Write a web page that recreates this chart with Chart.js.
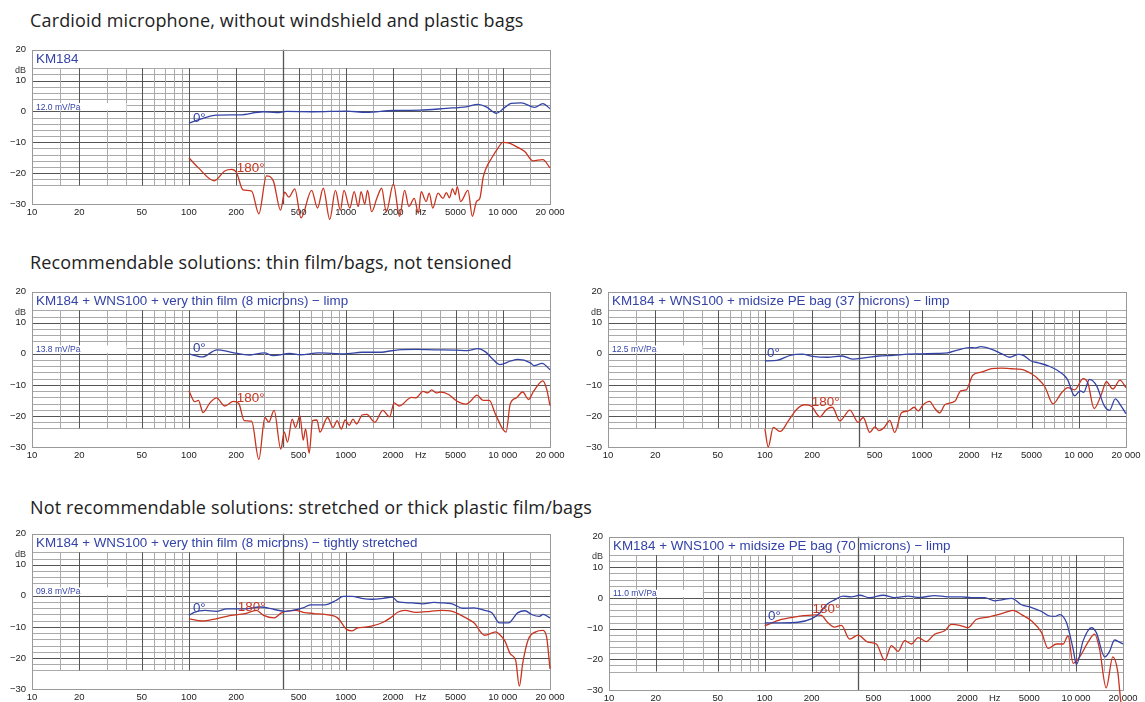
<!DOCTYPE html>
<html>
<head>
<meta charset="utf-8">
<script src="https://cdn.jsdelivr.net/npm/chart.js@4.4.1/dist/chart.umd.min.js"></script>
<style>
  body { margin: 0; width: 1145px; height: 702px; overflow: hidden; background: #fff; position: relative; }
  .heading { position: absolute; left: 30px; font-family: "Open Sans", sans-serif; font-size: 18px; letter-spacing: 0.15px; line-height: 20px; color: #222; white-space: nowrap; }
  .panel { position: absolute; }
</style>
</head>
<body>
<div class="heading" style="top:10px">Cardioid microphone, without windshield and plastic bags</div>
<div class="heading" style="top:252px">Recommendable solutions: thin film/bags, not tensioned</div>
<div class="heading" style="top:497px">Not recommendable solutions: stretched or thick plastic film/bags</div>

<div class="panel" id="w1"><canvas id="c1"></canvas></div>
<div class="panel" id="w2"><canvas id="c2"></canvas></div>
<div class="panel" id="w3"><canvas id="c3"></canvas></div>
<div class="panel" id="w4"><canvas id="c4"></canvas></div>
<div class="panel" id="w5"><canvas id="c5"></canvas></div>

<script>
// ------------------------------------------------------------------
// Axes
// ------------------------------------------------------------------
const xTickValues = [10, 20, 50, 100, 200, 500, 1000, 2000, 3000, 5000, 10000, 20000];
const xTickLabels = ['10', '20', '50', '100', '200', '500', '1000', '2000', 'Hz', '5000', '10 000', '20 000'];
const yTickValues = [-30, -20, -10, 0, 10, 20];
const gridFreqs = [15, 20, 30, 40, 50, 60, 70, 80, 90, 100, 150, 200, 300, 500, 600, 700, 800, 900,
  1000, 1500, 2000, 3000, 4000, 5000, 6000, 7000, 8000, 9000, 10000, 15000];
const majorFreqs = [20, 50, 100, 200, 500, 1000, 2000, 5000, 10000];

const panelTitles = [
  'KM184',
  'KM184 + WNS100 + very thin film (8 microns) \u2212 limp',
  'KM184 + WNS100 + midsize PE bag (37 microns) \u2212 limp',
  'KM184 + WNS100 + very thin film (8 microns) \u2212 tightly stretched',
  'KM184 + WNS100 + midsize PE bag (70 microns) \u2212 limp',
];
const sensitivities = ['12.0 mV/Pa', '13.8 mV/Pa', '12.5 mV/Pa', '09.8 mV/Pa', '11.0 mV/Pa'];

// ------------------------------------------------------------------
// Measured responses (Hz / dB), read off the original plots
// ------------------------------------------------------------------
// KM184 alone
const p1Freq0 = [100, 117, 150, 211, 297, 362, 420, 620, 1010, 1350, 2000, 2970, 4370, 5850, 6940, 7850, 9100, 10300, 11300, 13100, 16000, 18000, 20000];
const p1Db0 = [-3.8, -2.6, -1.2, -1.1, -0.1, -0.4, 0, -0.1, 0.1, -0.3, 0.3, 0.4, 1.0, 1.5, 2.3, 1.5, -0.6, 1.3, 2.6, 2.8, 1.3, 2.5, 0.9];
const p1Freq180 = [100, 115, 145, 169, 187, 201, 221, 251, 279, 312, 345, 384, 408, 433, 473, 518, 605, 660, 718, 790, 858, 923, 973, 1060, 1130, 1200, 1250, 1320, 1375, 1460, 1580, 1690, 1810, 2010, 2200, 2370, 2520, 2730, 2900, 3020, 3250, 3400, 3580, 3870, 4160, 4370, 4580, 4780, 4980, 5130, 5390, 6000, 6400, 6800, 7140, 7500, 7850, 8500, 9300, 10000, 11000, 12200, 13800, 15600, 18000, 20000];
const p1Db180 = [-15, -18.3, -22.5, -19.3, -18.8, -19.8, -25.4, -25.8, -33.2, -20.9, -22.5, -32, -26.2, -27.8, -25.1, -34.5, -25.6, -31.3, -24.9, -35, -25.6, -32, -25.6, -31.3, -26, -30.8, -26, -30, -25.6, -32.5, -28, -24.9, -32.5, -23.5, -34, -25.6, -30.8, -28.2, -33, -26, -29.2, -26.5, -31.3, -26.5, -28.2, -26.3, -28, -25, -27, -24.4, -29.2, -25.6, -34, -29.2, -28.2, -21.4, -18.3, -15.1, -12, -10, -10.3, -11.4, -13, -16, -15.6, -18.3];

// very thin film, limp
const p2Freq0 = [100, 122, 151, 187, 244, 302, 345, 439, 514, 670, 975, 1270, 1650, 2160, 2800, 3670, 5050, 5920, 6950, 7730, 8620, 9580, 11250, 12500, 15000, 15800, 17800, 20000];
const p2Db0 = [0, -1.0, 1.3, 0.5, -0.4, 0.3, -0.6, 0.1, -0.3, 0.3, 0, 0.5, 0.5, 1.3, 1.4, 1.3, 1.2, 1.0, 1.7, 0.7, -1.7, -3.5, -2.3, -1.8, -2.9, -3.8, -3.1, -5.1];
const p2Freq180 = [100, 109, 115, 123, 136, 150, 169, 192, 208, 225, 251, 279, 305, 323, 349, 385, 405, 425, 455, 478, 510, 535, 554, 584, 614, 654, 684, 764, 830, 880, 935, 990, 1050, 1110, 1170, 1270, 1360, 1530, 1720, 1900, 2030, 2190, 2620, 2800, 3100, 3330, 3520, 3790, 4000, 4520, 5090, 5840, 6250, 6840, 7490, 8210, 8990, 10500, 11150, 12200, 13400, 14600, 15700, 18000, 19100, 20000];
const p2Db180 = [-11.9, -15.4, -15, -18.9, -15.8, -14.2, -16.8, -15.3, -16, -21.5, -21.7, -34, -20.5, -22, -18.2, -30.7, -25.2, -28.4, -21, -23.7, -20, -27.8, -24.2, -32, -21.5, -21.3, -25.2, -20.5, -23.7, -21.5, -24.2, -21.3, -23, -21, -22.6, -19.7, -19.5, -22, -18.2, -20.3, -15.8, -16.8, -14, -14.2, -12.1, -12.6, -11.6, -12.6, -12.3, -13.1, -15.2, -16.2, -15.2, -13.3, -15, -15, -19.5, -25.2, -16.2, -14.2, -12.3, -14.7, -12.1, -8.7, -11.6, -16.7];

// midsize PE bag 37 microns, limp
const p3Freq0 = [100, 119, 147, 172, 202, 250, 310, 365, 428, 530, 656, 813, 1000, 1250, 1460, 1710, 2000, 2180, 2370, 2770, 3240, 3620, 4130, 4460, 4970, 5530, 6490, 7610, 8470, 9410, 10200, 10750, 11700, 13000, 14500, 15700, 17100, 18500, 20000];
const p3Db0 = [-2.3, -2.1, -0.4, -0.1, -0.8, -1.1, -0.7, -1.7, -1.3, -0.7, -0.5, -0.1, 0, 0.1, 0.3, 1.3, 2.0, 1.9, 2.3, 1.5, 0, -1.1, -0.2, -0.6, -2.3, -2.9, -4.0, -5.9, -8.2, -13.5, -11.9, -12.4, -8.2, -10.3, -16.6, -18.2, -14.5, -16.6, -19.3];
const p3Freq180 = [100, 105, 113, 125, 141, 159, 180, 198, 224, 247, 269, 300, 348, 393, 423, 466, 502, 532, 576, 625, 671, 742, 817, 894, 948, 1020, 1120, 1210, 1300, 1400, 1620, 1770, 1920, 2110, 2390, 2780, 3210, 3720, 4310, 4990, 5490, 6080, 6860, 7730, 8520, 9420, 10670, 11440, 12530, 13900, 15000, 16500, 18300, 20000];
const p3Db180 = [-24.2, -30, -23.7, -25, -21.6, -17.9, -16.4, -16.9, -20.3, -17.9, -17.2, -21.6, -18.1, -22.1, -20.5, -25.3, -23.5, -24.7, -23.7, -21.4, -25.3, -19, -18.4, -17.2, -18.4, -16.4, -15.3, -17.6, -19, -16.4, -15.3, -11.9, -11.6, -6.9, -5.9, -4.8, -4.6, -4.8, -5, -6.4, -8, -10.6, -16.1, -12.7, -10.9, -11.6, -8, -9.5, -17.6, -13.2, -9, -11.3, -8.5, -10.9];

// very thin film, tightly stretched
const p4Freq0 = [100, 108, 127, 149, 175, 228, 283, 350, 410, 456, 534, 593, 735, 864, 962, 1099, 1257, 1474, 1729, 1975, 2140, 2644, 3100, 3640, 4160, 4760, 5580, 6550, 7680, 8550, 9510, 10870, 12430, 13830, 15390, 17120, 18060, 20000];
const p4Db0 = [-6.3, -5.3, -4.7, -5.0, -4.2, -4.2, -3.6, -4.4, -5.0, -4.7, -3.9, -2.9, -2.9, -1.5, -0.2, -0.2, -0.8, -1.1, -0.8, -0.4, -1.9, -2.3, -2.6, -2.1, -2.3, -2.6, -4.0, -3.9, -4.7, -5.5, -8.7, -8.7, -5.5, -4.8, -6.1, -6.6, -6.0, -7.1];
const p4Freq180 = [100, 121, 149, 185, 228, 269, 299, 350, 389, 480, 534, 627, 735, 886, 1011, 1099, 1190, 1326, 1474, 1729, 1923, 2140, 2380, 2790, 3450, 4050, 4760, 5580, 6550, 7680, 9020, 9510, 10310, 11170, 12090, 12750, 13430, 14560, 16220, 18060, 19050, 20000];
const p4Db180 = [-7.4, -8.1, -7.4, -6.3, -5.7, -4.7, -6.3, -7.1, -5.5, -4.7, -5.3, -5.7, -6.0, -7.1, -10.8, -11.3, -10.3, -10.1, -9.7, -8.5, -7.1, -5.3, -4.7, -5.3, -5.0, -4.7, -5.0, -6.6, -8.7, -12.7, -11.6, -12.4, -14.5, -18.7, -20.8, -29.1, -21.4, -14.0, -11.6, -11.1, -13.4, -23.5];

// midsize PE bag 70 microns, limp
const p5Freq0 = [100, 128, 164, 199, 226, 249, 281, 318, 360, 408, 473, 576, 684, 832, 989, 1233, 1504, 1832, 2126, 2585, 3003, 3320, 3850, 4460, 5180, 6000, 6600, 7300, 7860, 8680, 9560, 10050, 11100, 12530, 13480, 15270, 16400, 17640, 18980, 20000];
const p5Db0 = [-8.1, -8.1, -7.9, -6.8, -4.9, -2.2, -0.6, 0.6, 0.4, 0.9, 0.1, 0.9, 0.1, 0.6, 0.2, 0.8, 0.4, 0.4, 0.1, 0.1, -0.9, -0.6, -0.1, -2.2, -3.1, -4.4, -5.7, -6.0, -5.4, -8.1, -16.6, -21.7, -13.9, -9.7, -11.3, -19.2, -17.4, -13.7, -14.4, -15];
const p5Freq180 = [100, 128, 164, 210, 231, 255, 281, 311, 351, 397, 461, 521, 590, 651, 718, 793, 875, 966, 1090, 1233, 1430, 1580, 1790, 2020, 2280, 2720, 3150, 3650, 3930, 4460, 5180, 6000, 6600, 7480, 8250, 8880, 9560, 10540, 11930, 13150, 14140, 15600, 17200, 18500, 19400, 20000];
const p5Db180 = [-9.1, -7.0, -6.0, -5.5, -5.7, -8.1, -9.5, -8.9, -13.4, -12.1, -14.4, -15.0, -20.3, -15.5, -17.4, -13.9, -15.0, -12.9, -14.2, -11.8, -10.7, -8.6, -8.9, -9.7, -7.0, -6.2, -5.4, -4.4, -4.0, -5.4, -7.5, -11.3, -16.4, -15.0, -15.0, -12.3, -21.3, -19.2, -14.4, -11.8, -16.6, -29.3, -19.2, -24, -34, -36];

// ------------------------------------------------------------------
// Look
// ------------------------------------------------------------------
const FONT = '"Liberation Sans", Arial, sans-serif';
const BLUE = '#3343a6';
const RED = '#c8341f';
const TEXT_BLUE = '#3343a8';

Chart.defaults.font.family = FONT;

const zip = (f, d) => f.map((v, i) => ({ x: v, y: d[i] }));

// plot box in page px + where the 0°/180° labels sit (Hz, dB)
const panels = [
  { id: 'c1', box: { l: 32, t: 46, r: 550, b: 204 }, f0: p1Freq0, d0: p1Db0, f180: p1Freq180, d180: p1Db180, lab0: [106, -2.2], lab180: [202, -18.4] },
  { id: 'c2', box: { l: 32, t: 288, r: 550, b: 447 }, f0: p2Freq0, d0: p2Db0, f180: p2Freq180, d180: p2Db180, lab0: [106, 1.8], lab180: [202, -14.3] },
  { id: 'c3', box: { l: 608, t: 288, r: 1126, b: 447 }, f0: p3Freq0, d0: p3Db0, f180: p3Freq180, d180: p3Db180, lab0: [103, 0.2], lab180: [199, -15.5] },
  { id: 'c4', box: { l: 32, t: 530, r: 550, b: 689 }, f0: p4Freq0, d0: p4Db0, f180: p4Freq180, d180: p4Db180, lab0: [106, -4.1], lab180: [205, -3.6] },
  { id: 'c5', box: { l: 609, t: 533, r: 1123, b: 690 }, f0: p5Freq0, d0: p5Db0, f180: p5Freq180, d180: p5Db180, lab0: [105, -6.1], lab180: [203, -3.6] },
];

const PAD_L = 32, PAD_T = 8, PAD_R = 24, PAD_B = 18;

function line(ctx, x1, y1, x2, y2) {
  ctx.beginPath(); ctx.moveTo(x1, y1); ctx.lineTo(x2, y2); ctx.stroke();
}

function framePlugin(idx, p) {
  return {
    id: 'frame' + idx,
    beforeDatasetsDraw(chart) {
      const { ctx, chartArea: a, scales: { x, y } } = chart;
      ctx.save();
      ctx.lineWidth = 1;
      const yTop = y.getPixelForValue(14), yBot = y.getPixelForValue(-24);
      // horizontal grid, every 2 dB
      for (let v = -24; v <= 14; v += 2) {
        const py = Math.round(y.getPixelForValue(v)) + 0.5;
        ctx.strokeStyle = v % 10 === 0 ? '#555' : '#aaa';
        line(ctx, a.left, py, a.right, py);
      }
      // vertical grid
      gridFreqs.forEach(f => {
        const px = Math.round(x.getPixelForValue(f)) + 0.5;
        ctx.strokeStyle = majorFreqs.includes(f) ? '#555' : '#aaa';
        line(ctx, px, yTop, px, yBot);
      });
      // the dark full-height marker at 400 Hz
      const p400 = Math.round(x.getPixelForValue(400)) + 0.5;
      ctx.strokeStyle = '#555';
      ctx.lineWidth = 1.3;
      line(ctx, p400, a.top, p400, a.bottom);
      // sensitivity box
      const bx = x.getPixelForValue(10) + 1, bx2 = x.getPixelForValue(40);
      const by = y.getPixelForValue(2.7), by2 = y.getPixelForValue(0) - 1;
      ctx.fillStyle = '#fff';
      ctx.fillRect(bx, by, bx2 - bx, by2 - by);
      ctx.fillStyle = TEXT_BLUE;
      ctx.font = '8.5px ' + FONT;
      ctx.textBaseline = 'middle';
      ctx.textAlign = 'left';
      ctx.fillText(sensitivities[idx], bx + 3, y.getPixelForValue(1.3));
      // outer frame
      ctx.strokeStyle = '#999';
      ctx.lineWidth = 1;
      ctx.strokeRect(Math.round(a.left) + 0.5, Math.round(a.top) + 0.5, Math.round(a.right - a.left), Math.round(a.bottom - a.top));
      ctx.restore();
    },
    afterDatasetsDraw(chart) {
      const { ctx, chartArea: a, scales: { x, y } } = chart;
      ctx.save();
      ctx.textBaseline = 'middle';
      ctx.textAlign = 'left';
      ctx.font = '13.4px ' + FONT;
      ctx.fillStyle = TEXT_BLUE;
      ctx.fillText(panelTitles[idx], a.left + 4, y.getPixelForValue(17));
      ctx.fillStyle = BLUE;
      ctx.fillText('0\u00b0', x.getPixelForValue(p.lab0[0]), y.getPixelForValue(p.lab0[1]));
      ctx.fillStyle = RED;
      ctx.fillText('180\u00b0', x.getPixelForValue(p.lab180[0]), y.getPixelForValue(p.lab180[1]));
      // dB unit above the 10 tick
      ctx.fillStyle = '#333';
      ctx.font = '9px ' + FONT;
      ctx.textAlign = 'right';
      ctx.fillText('dB', a.left - 6, y.getPixelForValue(13.4));
      ctx.restore();
    },
  };
}

panels.forEach((p, idx) => {
  const canvas = document.getElementById(p.id);
  const w = p.box.r - p.box.l + PAD_L + PAD_R;
  const h = p.box.b - p.box.t + PAD_T + PAD_B;
  canvas.width = w;
  canvas.height = h;
  const wrap = canvas.parentNode;
  wrap.style.left = (p.box.l - PAD_L) + 'px';
  wrap.style.top = (p.box.t - PAD_T) + 'px';

  new Chart(canvas, {
    type: 'line',
    data: {
      datasets: [
        { label: '0°', data: zip(p.f0, p.d0), borderColor: BLUE, borderWidth: 1.3, pointRadius: 0, cubicInterpolationMode: 'monotone', clip: false },
        { label: '180°', data: zip(p.f180, p.d180), borderColor: RED, borderWidth: 1.3, pointRadius: 0, cubicInterpolationMode: 'monotone', clip: false },
      ],
    },
    options: {
      responsive: false,
      animation: false,
      layout: { padding: { left: 0, top: PAD_T, right: PAD_R, bottom: 0 } },
      plugins: { legend: { display: false }, tooltip: { enabled: false } },
      scales: {
        x: {
          type: 'logarithmic', min: 10, max: 20000,
          afterBuildTicks: s => { s.ticks = xTickValues.map(v => ({ value: v })); },
          afterFit: s => { s.height = PAD_B; },
          ticks: { autoSkip: false, maxRotation: 0, padding: 3, color: '#222', font: { size: 9.5 },
            callback: (v, i) => xTickLabels[i] },
          grid: { display: false, drawTicks: false }, border: { display: false },
        },
        y: {
          min: -30, max: 20,
          afterBuildTicks: s => { s.ticks = yTickValues.map(v => ({ value: v })); },
          afterFit: s => { s.width = PAD_L; },
          ticks: { padding: 6, color: '#222', font: { size: 9.5 },
            callback: v => (v < 0 ? '\u2212' + (-v) : String(v)) },
          grid: { display: false, drawTicks: false }, border: { display: false },
        },
      },
    },
    plugins: [framePlugin(idx, p)],
  });
});
</script>
</body>
</html>
